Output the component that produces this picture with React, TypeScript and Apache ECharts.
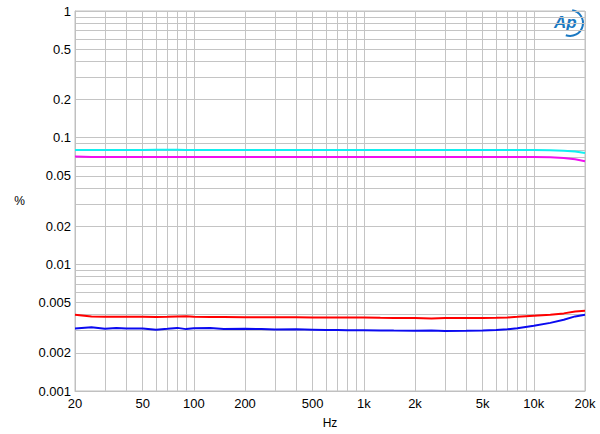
import React, { useEffect, useRef } from "react";
import * as echarts from "echarts";

const freqs = [20, 25, 30, 35, 40, 50, 60, 70, 80, 90, 100, 125, 150, 200, 250, 300, 400, 500, 600, 700, 800, 1000, 1250, 1500, 2000, 2500, 3000, 4000, 5000, 6000, 7000, 8000, 10000, 12500, 15000, 17500, 20000];
const cyanVals = [0.0800, 0.0800, 0.0800, 0.0800, 0.0800, 0.0800, 0.0801, 0.0801, 0.0801, 0.0800, 0.0800, 0.0800, 0.0800, 0.0800, 0.0800, 0.0800, 0.0800, 0.0800, 0.0800, 0.0800, 0.0800, 0.0800, 0.0800, 0.0800, 0.0800, 0.0800, 0.0800, 0.0800, 0.0800, 0.0800, 0.0800, 0.0800, 0.0800, 0.0796, 0.0790, 0.0778, 0.0758];
const magentaVals = [0.0710, 0.0705, 0.0705, 0.0705, 0.0705, 0.0705, 0.0705, 0.0705, 0.0705, 0.0705, 0.0705, 0.0705, 0.0705, 0.0705, 0.0705, 0.0705, 0.0705, 0.0705, 0.0704, 0.0704, 0.0703, 0.0703, 0.0703, 0.0703, 0.0703, 0.0703, 0.0703, 0.0703, 0.0704, 0.0704, 0.0704, 0.0704, 0.0703, 0.0700, 0.0692, 0.0675, 0.0652];
const redVals = [0.00400, 0.00388, 0.00386, 0.00386, 0.00386, 0.00386, 0.00384, 0.00385, 0.00388, 0.00390, 0.00385, 0.00384, 0.00384, 0.00383, 0.00383, 0.00382, 0.00382, 0.00381, 0.00381, 0.00380, 0.00380, 0.00380, 0.00378, 0.00377, 0.00377, 0.00373, 0.00377, 0.00377, 0.00377, 0.00379, 0.00381, 0.00385, 0.00393, 0.00400, 0.00410, 0.00425, 0.00430];
const blueVals = [0.00311, 0.00318, 0.00310, 0.00315, 0.00312, 0.00312, 0.00305, 0.00310, 0.00315, 0.00308, 0.00313, 0.00314, 0.00308, 0.00310, 0.00308, 0.00306, 0.00307, 0.00305, 0.00303, 0.00303, 0.00302, 0.00302, 0.00301, 0.00300, 0.00299, 0.00300, 0.00298, 0.00299, 0.00300, 0.00303, 0.00307, 0.00313, 0.00328, 0.00345, 0.00365, 0.00388, 0.00400];

const xLabelValues = [20, 50, 100, 200, 500, 1000, 2000, 5000, 10000, 20000];
const yLabelValues = [0.001, 0.002, 0.005, 0.01, 0.02, 0.05, 0.1, 0.2, 0.5, 1];
const xGridValues = [20, 30, 40, 50, 60, 70, 80, 90, 100, 200, 300, 400, 500, 600, 700, 800, 900, 1000, 2000, 3000, 4000, 5000, 6000, 7000, 8000, 9000, 10000, 20000];
const yGridValues = [0.001, 0.002, 0.003, 0.004, 0.005, 0.006, 0.007, 0.008, 0.009, 0.01, 0.02, 0.03, 0.04, 0.05, 0.06, 0.07, 0.08, 0.09, 0.1, 0.2, 0.3, 0.4, 0.5, 0.6, 0.7, 0.8, 0.9, 1];

const FONT = "Liberation Sans, Arial, sans-serif";

function fmtHz(v: number) {
  if (v >= 1000) return v / 1000 + "k";
  return String(v);
}

export default function App() {
  const ref = useRef<HTMLDivElement>(null);
  useEffect(() => {
    document.body.style.margin = "0";
    if (!ref.current) return;
    const chart = echarts.init(ref.current, null, { renderer: "svg" });
    const mk = (vals: number[]) => freqs.map((f, i) => [f, vals[i]]);
    const lineSeries = (name: string, vals: number[], color: string) => ({
      name,
      type: "line",
      data: mk(vals),
      showSymbol: false,
      smooth: false,
      lineStyle: { color, width: 2 },
      itemStyle: { color },
    });
    chart.setOption({
      animation: false,
      backgroundColor: "#ffffff",
      grid: { left: 75, right: 15, top: 11, bottom: 43, show: false },
      xAxis: {
        type: "log",
        logBase: 10,
        min: 20,
        max: 20000,
        name: "Hz",
        nameLocation: "middle",
        nameGap: 26,
        nameTextStyle: { fontFamily: FONT, fontSize: 12, color: "#000" },
        axisLine: { show: true, lineStyle: { color: "#c0c0c0", width: 1 } },
        axisTick: { show: true, length: 0, customValues: xGridValues },
        axisLabel: {
          customValues: xLabelValues,
          formatter: (v: number) => fmtHz(v),
          fontFamily: FONT,
          fontSize: 13,
          color: "#000",
          margin: 6,
        },
        splitLine: { show: true, lineStyle: { color: "#c4c4c4", width: 1 } },
      },
      yAxis: {
        type: "log",
        logBase: 10,
        min: 0.001,
        max: 1,
        name: "%",
        nameLocation: "middle",
        nameGap: 50,
        nameRotate: 0,
        nameTextStyle: { fontFamily: FONT, fontSize: 12, color: "#000" },
        axisLine: { show: true, lineStyle: { color: "#c0c0c0", width: 1 } },
        axisTick: { show: true, length: 0, customValues: yGridValues },
        axisLabel: {
          customValues: yLabelValues,
          formatter: (v: number) => String(parseFloat(v.toPrecision(3))),
          fontFamily: FONT,
          fontSize: 13,
          color: "#000",
          margin: 4,
        },
        splitLine: { show: true, lineStyle: { color: "#c4c4c4", width: 1 } },
      },
      graphic: [
        {
          type: "rect",
          shape: { x: 75, y: 11, width: 510, height: 380 },
          style: { fill: "none", stroke: "#c0c0c0", lineWidth: 1 },
          silent: true,
        },
        {
          type: "arc",
          shape: { cx: 570, cy: 23, r: 13, startAngle: -1.4, endAngle: 1.9 },
          style: { stroke: "#1a78c2", lineWidth: 2, fill: "none" },
        },
        {
          type: "text",
          x: 554,
          y: 14,
          style: {
            text: "Ap",
            fontFamily: FONT,
            fontSize: 17,
            fontStyle: "italic",
            fontWeight: "bold",
            fill: "#1a78c2",
          },
        },
      ],
      series: [
        lineSeries("cyan", cyanVals, "#10f0f0"),
        lineSeries("magenta", magentaVals, "#f010f0"),
        lineSeries("red", redVals, "#ff0000"),
        lineSeries("blue", blueVals, "#0a0af0"),
      ],
    });
    return () => chart.dispose();
  }, []);
  return <div ref={ref} style={{ width: 600, height: 434 }} />;
}
